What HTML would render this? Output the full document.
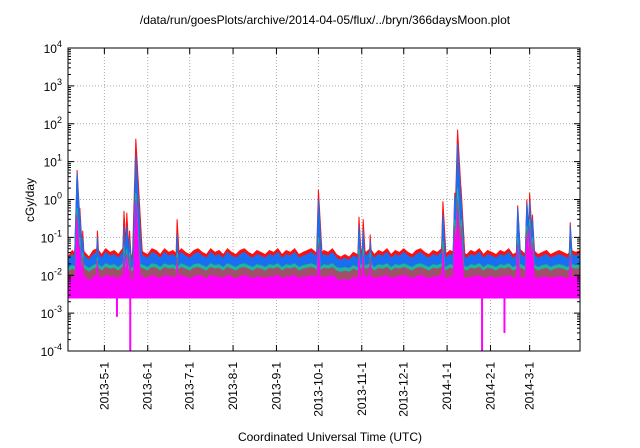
<!DOCTYPE html>
<html><head><meta charset="utf-8"><style>
html,body{margin:0;padding:0;background:#fff;}
svg{display:block;font-family:"Liberation Sans",sans-serif;}
</style></head><body>
<svg id="chart" width="640" height="448" viewBox="0 0 640 448" xmlns="http://www.w3.org/2000/svg">
<text x="325" y="24" font-size="12" text-anchor="middle">/data/run/goesPlots/archive/2014-04-05/flux/../bryn/366daysMoon.plot</text>
<text x="330" y="441" font-size="12" text-anchor="middle">Coordinated Universal Time (UTC)</text>
<text x="0" y="0" font-size="12" text-anchor="middle" transform="translate(34,200) rotate(-90)">cGy/day</text>
<g id="grid"></g>
<g id="series"></g>
<g id="axes"></g>
</svg>
<script>
// ---- data ----
const yTickExps = [-4,-3,-2,-1,0,1,2,3,4];
const monthLabels = ["2013-5-1","2013-6-1","2013-7-1","2013-8-1","2013-9-1","2013-10-1","2013-11-1","2013-12-1","2014-1-1","2014-2-1","2014-3-1"];
const monthDays = [26,57,87,118,149,179,210,240,271,302,330];
const baseStep = 3;
const redBase = [0.03,0.045,0.035,0.05,0.04,0.03,0.045,0.05,0.035,0.05,0.04,0.045,0.035,0.05,0.04,0.03,0.045,0.05,0.04,0.035,0.05,0.045,0.035,0.05,0.04,0.045,0.035,0.05,0.04,0.035,0.045,0.05,0.04,0.035,0.05,0.04,0.045,0.035,0.05,0.04,0.035,0.045,0.05,0.04,0.035,0.045,0.04,0.035,0.045,0.04,0.05,0.035,0.045,0.04,0.05,0.035,0.04,0.045,0.05,0.04,0.035,0.045,0.04,0.05,0.035,0.03,0.035,0.03,0.04,0.035,0.045,0.04,0.05,0.035,0.045,0.04,0.05,0.035,0.045,0.04,0.05,0.04,0.035,0.045,0.05,0.04,0.035,0.045,0.04,0.05,0.035,0.045,0.04,0.05,0.04,0.035,0.045,0.04,0.05,0.035,0.045,0.04,0.035,0.045,0.04,0.05,0.035,0.04,0.045,0.035,0.04,0.045,0.035,0.04,0.045,0.035,0.04,0.045,0.04,0.035,0.045,0.04,0.045];
const blueBase = [0.025,0.035,0.028,0.04,0.032,0.025,0.035,0.04,0.028,0.04,0.032,0.035,0.028,0.04,0.032,0.025,0.035,0.04,0.032,0.028,0.04,0.035,0.028,0.04,0.032,0.035,0.028,0.04,0.032,0.028,0.035,0.04,0.032,0.028,0.04,0.032,0.035,0.028,0.04,0.032,0.028,0.035,0.04,0.032,0.028,0.035,0.032,0.028,0.035,0.032,0.04,0.028,0.035,0.032,0.04,0.028,0.032,0.035,0.04,0.032,0.028,0.035,0.032,0.04,0.028,0.025,0.028,0.025,0.032,0.028,0.035,0.032,0.04,0.028,0.035,0.032,0.04,0.028,0.035,0.032,0.04,0.032,0.028,0.035,0.04,0.032,0.028,0.035,0.032,0.04,0.028,0.035,0.032,0.04,0.032,0.028,0.035,0.032,0.04,0.028,0.035,0.032,0.028,0.035,0.032,0.04,0.028,0.032,0.035,0.028,0.032,0.035,0.028,0.032,0.035,0.028,0.032,0.035,0.032,0.028,0.035,0.032,0.035];
const tealBase = [0.015,0.018,0.016,0.02,0.018,0.015,0.018,0.02,0.016,0.02,0.018,0.019,0.016,0.02,0.018,0.015,0.018,0.02,0.018,0.016,0.02,0.019,0.016,0.02,0.018,0.019,0.016,0.02,0.018,0.016,0.019,0.02,0.018,0.016,0.02,0.018,0.019,0.016,0.02,0.018,0.016,0.019,0.02,0.018,0.016,0.019,0.018,0.016,0.019,0.018,0.02,0.016,0.019,0.018,0.02,0.016,0.018,0.019,0.02,0.018,0.016,0.019,0.018,0.02,0.016,0.015,0.016,0.015,0.018,0.016,0.019,0.018,0.02,0.016,0.019,0.018,0.02,0.016,0.019,0.018,0.02,0.018,0.016,0.019,0.02,0.018,0.016,0.019,0.018,0.02,0.016,0.019,0.018,0.02,0.018,0.016,0.019,0.018,0.02,0.016,0.019,0.018,0.016,0.019,0.018,0.02,0.016,0.018,0.019,0.016,0.018,0.019,0.016,0.018,0.019,0.016,0.018,0.019,0.018,0.016,0.019,0.018,0.019];
const magentaTopBase = [0.007,0.009,0.008,0.01,0.009,0.007,0.009,0.01,0.008,0.01,0.009,0.009,0.008,0.01,0.009,0.007,0.009,0.01,0.009,0.008,0.01,0.009,0.008,0.01,0.009,0.009,0.008,0.01,0.009,0.008,0.009,0.01,0.009,0.008,0.01,0.009,0.009,0.008,0.01,0.009,0.008,0.009,0.01,0.009,0.008,0.009,0.009,0.008,0.009,0.009,0.01,0.008,0.009,0.009,0.01,0.008,0.009,0.009,0.01,0.009,0.008,0.009,0.009,0.01,0.008,0.007,0.008,0.007,0.009,0.008,0.009,0.009,0.01,0.008,0.009,0.009,0.01,0.008,0.009,0.009,0.01,0.009,0.008,0.009,0.01,0.009,0.008,0.009,0.009,0.01,0.008,0.009,0.009,0.01,0.009,0.008,0.009,0.009,0.01,0.008,0.009,0.009,0.008,0.009,0.009,0.01,0.008,0.009,0.009,0.008,0.009,0.009,0.008,0.009,0.009,0.008,0.009,0.009,0.009,0.008,0.009,0.009,0.009];
const magentaLow = 0.0025;
const peakDays = [6.5,8.5,10.5,21,40,42,44,48.5,78,179,208,211,216,268,276.5,278.5,281,321.5,328,330,332,359];
const peakRed = [6,0.6,0.15,0.15,0.5,0.45,0.15,40,0.3,1.8,0.35,0.3,0.12,0.9,1.5,70,2,0.7,1.0,1.5,0.4,0.25];
const peakBlue = [5,0.4,0.1,0.1,0.2,0.2,0.1,15,0.12,1.0,0.2,0.15,0.08,0.4,1.2,30,1,0.6,0.8,0.9,0.3,0.2];
const peakTeal = [0.6,0.1,0.04,0.03,0.06,0.05,0.04,1.5,0.04,0.1,0.05,0.05,0.04,0.08,0.3,2,0.3,0.1,0.2,0.3,0.1,0.05];
const peakBrown = [0.4,0.06,0.03,0.025,0.04,0.035,0.03,1.0,0.03,0.07,0.035,0.035,0.03,0.05,0.2,1,0.2,0.07,0.15,0.2,0.07,0.035];
const peakMagenta = [0.3,0.05,0.02,0.02,0.03,0.03,0.02,0.8,0.02,0.05,0.03,0.03,0.02,0.04,0.15,0.5,0.1,0.05,0.1,0.15,0.05,0.03];
const dipDays = [35,44.5,296,312];
const dipValues = [8e-4,1e-4,1e-4,3e-4];

// ---- axes ----
const L=68,R=580,T=48,B=351,totalDays=366;
const NS="http://www.w3.org/2000/svg";
const xS = d => L + d/totalDays*(R-L);
const yS = v => B - (Math.log10(v)+4)/8*(B-T);
function mk(tag,attrs,parent){const e=document.createElementNS(NS,tag);for(const k in attrs)e.setAttribute(k,attrs[k]);parent.appendChild(e);return e;}
const grid=document.getElementById('grid'),ser=document.getElementById('series'),axes=document.getElementById('axes');

yTickExps.forEach(ex=>{
  const y=yS(Math.pow(10,ex));
  if(ex>-4&&ex<4){const g=mk('line',{x1:L,x2:R,y1:y,y2:y,stroke:'#aaa','stroke-width':1,'stroke-dasharray':'1,2'},grid);
  
  }
  const t=mk('text',{x:L-6,y:y+5,'font-size':12,'text-anchor':'end'},axes);
  
  
  t.textContent='10';
  const s=mk('tspan',{dy:-6,'font-size':9},t); s.textContent=String(ex);
  mk('line',{x1:L,x2:L+6,y1:y,y2:y,stroke:'#000'},axes);
  mk('line',{x1:R,x2:R-6,y1:y,y2:y,stroke:'#000'},axes);
  if(ex<4){for(let m=2;m<10;m++){const ym=yS(m*Math.pow(10,ex));
    mk('line',{x1:L,x2:L+3,y1:ym,y2:ym,stroke:'#000'},axes);
    mk('line',{x1:R,x2:R-3,y1:ym,y2:ym,stroke:'#000'},axes);}}
});
monthDays.forEach((d,i)=>{
  const x=xS(d);
  const g=mk('line',{x1:x,x2:x,y1:T,y2:B,stroke:'#aaa','stroke-width':1,'stroke-dasharray':'1,2'},grid);
  
  
  mk('line',{x1:x,x2:x,y1:B,y2:B-6,stroke:'#000'},axes);
  mk('line',{x1:x,x2:x,y1:T,y2:T+6,stroke:'#000'},axes);
  const t=mk('text',{x:0,y:0,'font-size':12,'text-anchor':'end',transform:`translate(${x+4},362) rotate(-90)`},axes);
  
  
  t.textContent=monthLabels[i];
});
const frame=mk('rect',{x:L,y:T,width:R-L,height:B-T,fill:'none',stroke:'#000','stroke-width':1},axes);



// ---- series ----
function baseAt(arr,d){const p=d/baseStep,i=Math.min(Math.floor(p),arr.length-2),f=Math.min(p-i,1);
  return Math.pow(10,Math.log10(arr[i])*(1-f)+Math.log10(arr[i+1])*f);}
function valAt(base,peaks,d){let lv=Math.log10(baseAt(base,d));
  peakDays.forEach((pd,i)=>{const dd=d-pd;const k=dd<0?1.3:0.65;const p=Math.log10(peaks[i])-Math.abs(dd)*k;if(p>lv)lv=p;});
  return Math.pow(10,lv);}
function area(base,peaks,color,name){
  let pts=[];for(let d=0;d<=totalDays;d+=0.25){const v=Math.min(valAt(base,peaks,d),1e4);pts.push(xS(d).toFixed(1)+','+yS(v).toFixed(1));}
  pts.push(xS(totalDays)+','+yS(magentaLow));pts.push(xS(0)+','+yS(magentaLow));
  const p=mk('polygon',{points:pts.join(' '),fill:color,stroke:color,'stroke-width':1},ser);
  
  
}
area(redBase,peakRed,'#ff1010','series-red');
area(blueBase,peakBlue,'#1a6ff0','series-blue');
area(tealBase,peakTeal,'#20b49a','series-teal');
area(tealBase.map(v=>v*0.8),peakBrown,'#a0506a','series-brown');
area(magentaTopBase,peakMagenta,'#ff00ff','series-magenta');
dipDays.forEach((d,i)=>{
  const r=mk('rect',{x:xS(d)-1,y:yS(magentaLow),width:2,height:Math.max(0,yS(dipValues[i])-yS(magentaLow)),fill:'#ff00ff'},ser);
  
  
});
</script>
</body></html>
